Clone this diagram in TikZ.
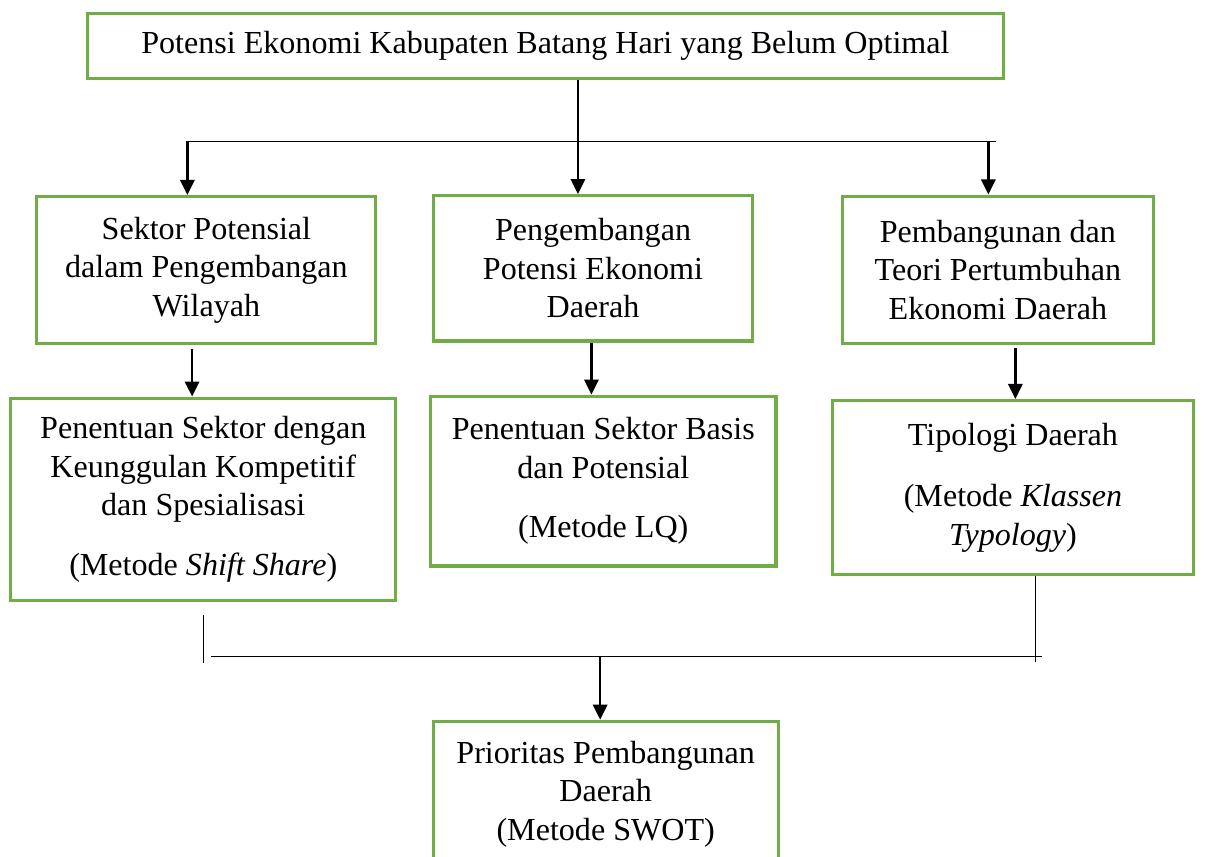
\documentclass[tikz,border=0pt]{standalone}
\usepackage{fontspec}
\setmainfont{Liberation Serif}
\usepackage{tikz}
\usetikzlibrary{arrows.meta, positioning, calc}
\definecolor{boxgreen}{RGB}{112,173,71}

\begin{document}
\begin{tikzpicture}[
        >={Triangle[length=0.19cm, width=0.18cm]},
        box/.style={draw=boxgreen, line width=1.1pt, align=center, inner sep=0pt,
                    font=\fontsize{11.5}{13.8}\selectfont},
        arr/.style={->, line width=0.9pt},
        bus/.style={line width=0.5pt},
    ]
    \useasboundingbox (0,0) rectangle (15.28,-10.79);
    % top
    \node[box, minimum width=11.53cm, minimum height=0.82cm] (top) at (6.87,-0.58)
        {Potensi Ekonomi Kabupaten Batang Hari yang Belum Optimal};
    % second row
    \node[box, minimum width=4.27cm, minimum height=1.85cm] (sl) at (2.60,-3.40)
        {Sektor Potensial\\dalam Pengembangan\\Wilayah};
    \node[box, minimum width=4.02cm, minimum height=1.83cm] (pm) at (7.47,-3.38)
        {Pengembangan\\Potensi Ekonomi\\Daerah};
    \node[box, minimum width=3.91cm, minimum height=1.86cm] (pr) at (12.57,-3.40)
        {Pembangunan dan\\Teori Pertumbuhan\\Ekonomi Daerah};
    % third row
    \node[box, minimum width=4.85cm, minimum height=2.55cm] (sd) at (2.56,-6.29)
        {Penentuan Sektor dengan\\Keunggulan Kompetitif\\dan Spesialisasi\\[7.4pt](Metode \textit{Shift Share})};
    \node[box, minimum width=4.35cm, minimum height=2.14cm] (lq) at (7.60,-6.06)
        {Penentuan Sektor Basis\\dan Potensial\\[7.6pt](Metode LQ)};
    \node[box, minimum width=4.54cm, minimum height=2.19cm] (tr) at (12.76,-6.14)
        {Tipologi Daerah\\[8.2pt](Metode \textit{Klassen}\\\textit{Typology})};
    % bottom
    \node[box, minimum width=4.35cm, minimum height=1.83cm] (prio) at (7.63,-10.00)
        {Prioritas Pembangunan\\Daerah\\(Metode SWOT)};

    \coordinate (busL) at (2.36,-1.78);
    \coordinate (busR) at (12.54,-1.78);
    \coordinate (joinL) at (2.66,-8.27);
    \coordinate (joinR) at (13.12,-8.27);
    \coordinate (drop) at (7.56,-8.27);

    \draw[bus] (busL) -- (busR);
    \draw[arr] ([xshift=0.41cm]top.south) -- ([xshift=0.41cm]top.south |- pm.north);
    \draw[arr] (busL) -- (busL |- sl.north);
    \draw[arr] ([xshift=-0.09cm]busR) -- ([xshift=-0.09cm]busR |- pr.north);

    \draw[arr] ([xshift=-0.18cm, yshift=-0.05cm]sl.south) -- ([xshift=-0.18cm]sl.south |- sd.north);
    \draw[arr] ([xshift=-0.02cm]pm.south) -- ([xshift=-0.02cm]pm.south |- lq.north);
    \draw[arr] ([xshift=0.22cm, yshift=-0.03cm]pr.south) -- ([xshift=0.22cm]pr.south |- tr.north);

    \draw[bus] ([yshift=-0.16cm]sd.south) -- ++(0,-0.61);
    \draw[bus] ([xshift=0.28cm]tr.south) -- ++(0,-1.09);
    \draw[bus] (joinL) -- (joinR);
    \draw[arr] (drop) -- (drop |- prio.north);
\end{tikzpicture}
\end{document}
